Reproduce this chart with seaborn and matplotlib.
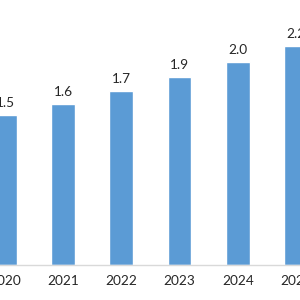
import matplotlib
matplotlib.use("Agg")
import matplotlib.pyplot as plt
import seaborn as sns
import pandas as pd

# values (labels shown with one decimal)
years = ["2020", "2021", "2022", "2023", "2024", "2025"]
values = [1.50, 1.61, 1.74, 1.88, 2.03, 2.19]

bar_color = "#5b9bd5"
text_color = "#262626"

sns.set_style("white")
plt.rcParams["font.family"] = ["Lato", "DejaVu Sans"]

df = pd.DataFrame({"year": years, "value": values})

fig = plt.figure(figsize=(3, 3), dpi=100)
ax = fig.add_axes([0, 0.1167, 1, 0.8833])

sns.barplot(data=df, x="year", y="value", order=years, color=bar_color,
            saturation=1, width=0.41, ax=ax, errorbar=None)

for c in ax.containers:
    ax.bar_label(c, fmt="%.1f", padding=4, fontsize=9.8, color=text_color)

ax.set_xlim(-0.086, 5.07)
ax.set_ylim(0, 2.65)
ax.set_xlabel("")
ax.set_ylabel("")
ax.set_yticks([])
ax.tick_params(axis="x", length=0, pad=7.5, labelsize=9.8, labelcolor=text_color)

for side in ["top", "left", "right"]:
    ax.spines[side].set_visible(False)
ax.spines["bottom"].set_color("#d9d9d9")
ax.spines["bottom"].set_linewidth(1)

fig.savefig("out.png", dpi=100)
